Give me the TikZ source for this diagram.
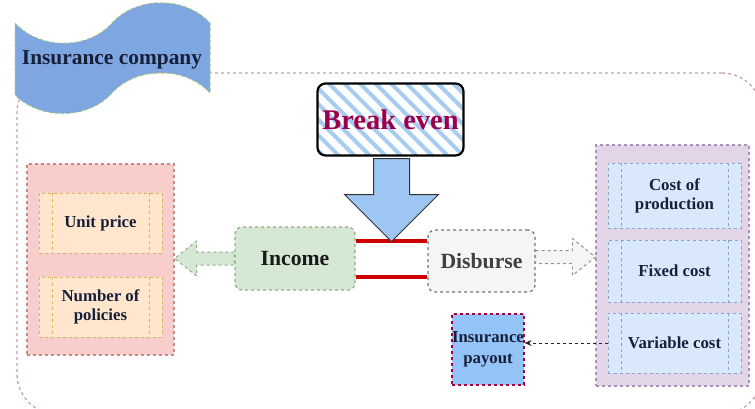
\documentclass[tikz,border=0pt]{standalone}
\usepackage{fontspec}
\setmainfont{Liberation Serif}
\usetikzlibrary{patterns.meta,calc,arrows.meta}
\definecolor{outerc}{HTML}{BFA3B3}
\definecolor{flagfill}{HTML}{7EA6E0}
\definecolor{flagline}{HTML}{A9C47F}
\definecolor{navy}{HTML}{17203A}
\definecolor{pinkfill}{HTML}{F8CECC}
\definecolor{pinkline}{HTML}{B85450}
\definecolor{orfill}{HTML}{FFE6CC}
\definecolor{orline}{HTML}{D6B656}
\definecolor{grfill}{HTML}{D5E8D4}
\definecolor{grline}{HTML}{8FAE83}
\definecolor{gyfill}{HTML}{F5F5F5}
\definecolor{gyline}{HTML}{777777}
\definecolor{pufill}{HTML}{E1D5E7}
\definecolor{puline}{HTML}{9673A6}
\definecolor{blfill}{HTML}{DAE8FC}
\definecolor{blline}{HTML}{6C8EBF}
\definecolor{payfill}{HTML}{94C4F7}
\definecolor{payline}{HTML}{A50040}
\definecolor{stripe}{HTML}{A8CCF0}
\definecolor{berose}{HTML}{99004D}
\definecolor{arrowfill}{HTML}{9DC6F3}
\definecolor{redl}{HTML}{CC0000}
\begin{document}
\begin{tikzpicture}[x=1pt,y=-1pt,
  every node/.style={font=\bfseries, inner sep=0pt, align=center},
  container/.style={draw=outerc, dashed, line width=1.3pt, rounded corners=40pt},
  groupbox/.style={dashed, line width=1.2pt},
  procbox/.style={draw=#1, dashed, line width=0.8pt,
    path picture={\draw[#1, dashed, line width=0.8pt]
      ([xshift=13pt]path picture bounding box.north west) -- ([xshift=13pt]path picture bounding box.south west)
      ([xshift=-13pt]path picture bounding box.north east) -- ([xshift=-13pt]path picture bounding box.south east);}},
  innerfont/.style={font=\bfseries\fontsize{16.8}{19}\selectfont, text=navy},
  bigfont/.style={font=\bfseries\fontsize{21.7}{24}\selectfont},
  redline/.style={draw=redl, line width=4pt},
  blockarrow/.style={dashed, line width=1pt, line join=round}
]
\useasboundingbox (0,0) rectangle (755,408);

% outer container
\node[container, minimum width=745pt, minimum height=341pt] (cont) at (389.5,243.5) {};

% flag
\draw[fill=flagfill, draw=flagline, dashed, line width=1pt]
  (15,23) .. controls (40,50) and (88,50) .. (112,23)
  .. controls (137,-4) and (185,-4) .. (210,23)
  -- (210,93)
  .. controls (185,66) and (137,66) .. (112,93)
  .. controls (88,120) and (40,120) .. (15,95) -- cycle;
\node[font=\bfseries\fontsize{21.4}{24}\selectfont, text=navy] (ic) at (112,60) {Insurance company};

% break even box
\node[draw=black, line width=2.2pt, rounded corners=8pt, preaction={fill=white},
  pattern={Lines[angle=-45,distance=11pt,line width=4pt]}, pattern color=stripe,
  minimum width=146pt, minimum height=72pt,
  font=\bfseries\fontsize{28.5}{30}\selectfont, text=berose] (be) at (390.5,119.5) {Break even};

% income / disburse
\node[bigfont, text=black!90, fill=grfill, draw=grline, dashed, line width=1.2pt, rounded corners=7pt,
  minimum width=120pt, minimum height=63pt] (inc) at (295,258.5) {Income};
\node[bigfont, text=black!75, fill=gyfill, draw=gyline, dashed, line width=1.2pt, rounded corners=7pt,
  minimum width=107pt, minimum height=62pt] (dis) at (481.5,261) {Disburse};

% red lines
\draw[redline] ([yshift=17.5pt]inc.east) -- ([yshift=17.5pt]inc.east -| dis.west);
\draw[redline] ([yshift=-18.5pt]inc.east) -- ([yshift=-18.5pt]inc.east -| dis.west);

% down arrow
\draw[fill=arrowfill, draw=black!80, line width=1pt, line join=miter]
  ($(be.south)+(-17,1)$) -- ++(0,36) -- ++(-29,0) -- ($(be.south)+(1,84)$)
  -- ($(be.south)+(48,37)$) -- ++(-29,0) -- ($(be.south)+(19,1)$) -- cycle;

% left group
\node[groupbox, fill=pinkfill, draw=pinkline!70, minimum width=147pt, minimum height=191pt] (lb) at (100.5,259.5) {};
\node[procbox=orline, fill=orfill, innerfont, minimum width=123pt, minimum height=60pt] (up) at (100.5,223) {Unit price};
\node[procbox=orline, fill=orfill, innerfont, minimum width=123pt, minimum height=60pt] (np) at (100.5,307) {Number of\\policies};

% right group
\node[groupbox, fill=pufill, draw=puline!80, minimum width=153pt, minimum height=241pt] (rb) at (672.5,265.5) {};
\node[procbox=blline!80, fill=blfill, innerfont, minimum width=133pt, minimum height=65pt] (cp) at (674.5,195.5) {Cost of\\production};
\node[procbox=blline!80, fill=blfill, innerfont, minimum width=133pt, minimum height=62pt] (fc) at (674.5,271) {Fixed cost};
\node[procbox=blline!80, fill=blfill, innerfont, minimum width=133pt, minimum height=60pt] (vc) at (674.5,343) {Variable cost};

% insurance payout
\node[fill=payfill, draw=payline, dashed, line width=1.2pt, minimum width=72pt, minimum height=71pt,
  font=\bfseries\fontsize{16.8}{21}\selectfont, text=navy] (po) at (488,349.5) {Insurance\\payout};

% left block arrow (income -> left group)
\draw[blockarrow, fill=grfill, draw=grline]
  ($(inc.west)+(0,-6.5)$) -- ($(lb.east |- inc.west)+(22,-6.5)$) -- ++(0,-11)
  -- (lb.east |- inc.west) -- ++(22,17.5) -- ++(0,-11) -- ($(inc.west)+(0,6.5)$) -- cycle;

% right block arrow (disburse -> right group)
\draw[blockarrow, fill=gyfill, draw=gyline!80]
  ($(dis.east)+(0,-10.5)$) -- ($(rb.west |- dis.east)+(-23,-10.5)$) -- ++(0,-12)
  -- ($(rb.west |- dis.east)+(0,-4)$) -- ++(-23,18.5) -- ++(0,-12) -- ($(dis.east)+(0,2.5)$) -- cycle;

% dashed arrow variable cost -> payout
\draw[dashed, line width=1pt, -{Stealth[length=7pt,width=6pt]}, black!85] (vc.west) -- (vc.west -| po.east);
\end{tikzpicture}
\end{document}
